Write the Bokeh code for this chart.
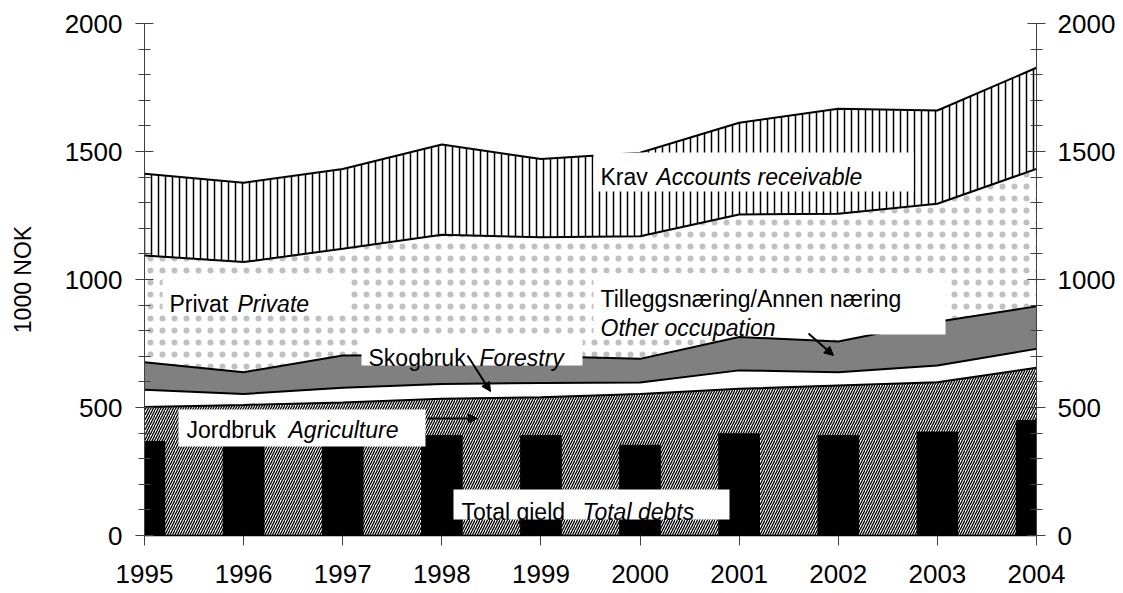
import numpy as np
from bokeh.plotting import figure
from bokeh.models import (Range1d, LinearAxis, SingleIntervalTicker, FixedTicker,
                          Label, Arrow, NormalHead, ColumnDataSource)
from bokeh.embed import file_html
from bokeh.resources import INLINE

# ---------------- data (1000 NOK) ----------------
years = [1995, 1996, 1997, 1998, 1999, 2000, 2001, 2002, 2003, 2004]
agriculture = [502, 510, 520, 534, 540, 553, 573, 586, 599, 655]
forestry = [67, 43, 57, 58, 56, 45, 72, 52, 65, 74]
other_occupation = [108, 85, 126, 113, 104, 92, 130, 120, 171, 166]
private = [417, 430, 417, 470, 465, 479, 479, 499, 461, 537]
accounts_receivable = [319, 310, 312, 352, 306, 326, 358, 410, 364, 395]
total_debts = [368, 365, 370, 390, 390, 352, 397, 390, 404, 449]

y_ticks = [0, 500, 1000, 1500, 2000]

layers = [agriculture, forestry, other_occupation, private, accounts_receivable]
cum = np.cumsum(np.array(layers, dtype=float), axis=0)
src = ColumnDataSource(dict(
    x=years, zero=[0] * len(years),
    c1=cum[0], c2=cum[1], c3=cum[2], c4=cum[3], c5=cum[4],
    debts=total_debts,
))

FONT = "Liberation Sans"

# pixel -> data helpers for annotation placement (reference image coordinates)
def dx(px):
    return 1995 + (px - 144) / ((1036 - 144) / 9)

def dy(py):
    return (535 - py) / (512 / 2000)

p = figure(width=1123, height=593, output_backend="svg", toolbar_location=None,
           x_range=Range1d(1995, 2004), y_range=Range1d(0, 2000),
           min_border_left=144, min_border_right=87, min_border_top=23,
           min_border_bottom=58)
p.outline_line_color = None
p.grid.visible = False
p.background_fill_color = "white"
p.border_fill_color = "white"

# stacked areas
p.varea(x="x", y1="zero", y2="c1", source=src, fill_color="white",
        hatch_pattern="right_diagonal_line", hatch_color="black",
        hatch_scale=5, hatch_weight=1.3)
p.varea(x="x", y1="c1", y2="c2", source=src, fill_color="white")
p.varea(x="x", y1="c2", y2="c3", source=src, fill_color="#808080")
p.varea(x="x", y1="c3", y2="c4", source=src, fill_color="white",
        hatch_pattern="dot", hatch_color="#c0c0c0", hatch_scale=12, hatch_weight=1)
p.varea(x="x", y1="c4", y2="c5", source=src, fill_color="white",
        hatch_pattern="vertical_line", hatch_color="black", hatch_scale=7,
        hatch_weight=1.5)

# total debts bars
p.vbar(x="x", top="debts", bottom=0, width=0.41, source=src,
       fill_color="black", line_color="black")

# boundary lines
for c in ["c1", "c2", "c3", "c4", "c5"]:
    p.line(x="x", y=c, source=src, line_color="black", line_width=2)

# white label boxes
boxes = [(593, 913, 152, 191), (162, 350, 279, 313), (361, 582, 338, 365),
         (593, 945, 273, 334), (178, 425, 409, 446), (453, 729, 489, 519)]
p.quad(left=[dx(b[0]) for b in boxes], right=[dx(b[1]) for b in boxes],
       top=[dy(b[2]) for b in boxes], bottom=[dy(b[3]) for b in boxes],
       fill_color="white", line_color=None)

def lab(px, py, text, italic=False):
    p.add_layout(Label(x=dx(px), y=dy(py), text=text, text_font=FONT,
                       text_font_size="23px", text_color="black",
                       text_font_style="italic" if italic else "normal",
                       text_baseline="alphabetic", text_align="left"))

lab(600, 176, "Krav")
lab(656, 176, "Accounts receivable", True)
lab(169, 303, "Privat")
lab(237, 303, "Private", True)
lab(368, 357, "Skogbruk")
lab(479, 357, "Forestry", True)
lab(600, 298, "Tilleggsnæring/Annen næring")
lab(600, 327, "Other occupation", True)
lab(186, 429, "Jordbruk")
lab(288, 429, "Agriculture", True)
lab(461, 511, "Total gjeld")
lab(582, 511, "Total debts", True)

def arrow(x0, y0, x1, y1):
    p.add_layout(Arrow(x_start=dx(x0), y_start=dy(y0), x_end=dx(x1), y_end=dy(y1),
                       line_width=2, line_color="black",
                       end=NormalHead(size=9, fill_color="black", line_color="black",
                                      line_width=1)))

arrow(427, 418, 477, 418)
arrow(467, 355, 490, 391)
arrow(808, 333, 833, 355)

# axes
AX = "#404040"
xa = p.xaxis[0]
xa.ticker = FixedTicker(ticks=years, minor_ticks=[])
xa.major_tick_in = 0
xa.major_tick_out = 10
xa.axis_line_color = "black"
xa.axis_line_width = 1.5
xa.major_tick_line_color = AX
xa.major_label_text_font = FONT
xa.major_label_text_font_size = "26px"
xa.major_label_text_color = "black"
xa.major_label_standoff = 19

def style_y(ax):
    ax.ticker = SingleIntervalTicker(interval=500, num_minor_ticks=5)
    ax.major_tick_in = 9
    ax.major_tick_out = 9
    ax.minor_tick_in = 6
    ax.minor_tick_out = 6
    ax.axis_line_color = AX
    ax.major_tick_line_color = AX
    ax.minor_tick_line_color = AX
    ax.major_label_text_font = FONT
    ax.major_label_text_font_size = "26px"
    ax.major_label_text_color = "black"
    ax.major_label_standoff = 13

ya = p.yaxis[0]
style_y(ya)
ya.axis_label = "1000 NOK"
ya.axis_label_text_font = FONT
ya.axis_label_text_font_size = "23px"
ya.axis_label_text_font_style = "normal"
ya.axis_label_text_color = "black"
ya.axis_label_standoff = 26

ra = LinearAxis()
style_y(ra)
ra.major_label_standoff = 12
p.add_layout(ra, "right")

open("out.html", "w").write(file_html(p, INLINE))
